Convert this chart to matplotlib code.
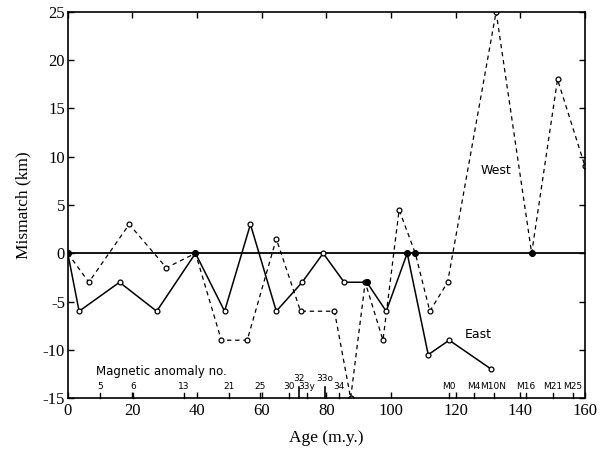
import matplotlib
matplotlib.use("Agg")
import matplotlib.pyplot as plt

plt.rcParams["axes.unicode_minus"] = False

# West (dashed) mismatch
west_age = [0, 6.5, 19, 30.5, 39.5, 47.5, 55.5, 64.5, 72, 82.5, 87.5, 92, 97.5, 102.5, 107.5, 112, 117.5, 132.5, 143.5, 151.5, 160]
west_mis = [0, -3, 3, -1.5, 0, -9, -9, 1.5, -6, -6, -15, -3, -9, 4.5, 0, -6, -3, 25, 0, 18, 9]

# East (solid) mismatch
east_age = [0, 3.5, 16, 27.5, 39.5, 48.5, 56.5, 64.5, 72.5, 79, 85.5, 92.5, 98.5, 105, 111.5, 118, 131]
east_mis = [0, -6, -3, -6, 0, -6, 3, -6, -3, 0, -3, -3, -6, 0, -10.5, -9, -12]

# filled (solid) dots
filled_age = [0, 39.5, 92.5, 105, 107.5, 143.5]
filled_mis = [0, 0, -3, 0, 0, 0]

# magnetic anomaly scale
anom_age = [10, 20.3, 36, 50, 59.5, 68.5, 71.6, 74, 79.5, 84, 118, 125.6, 131.7, 141.6, 150, 156.3]
anom_lab = ["5", "6", "13", "21", "25", "30", "32", "33y", "33o", "34",
            "M0", "M4", "M10N", "M16", "M21", "M25"]
anom_long = ["32", "33o"]

fig = plt.figure(figsize=(6, 4.54), dpi=100)
ax = fig.add_axes([0.113, 0.123, 0.862, 0.851])

ax.axhline(0, color="black", lw=1.3, zorder=1)

ax.plot(west_age, west_mis, color="black", lw=0.9, ls=(0, (3.5, 3)),
        marker="o", ms=3.5, mfc="white", mec="black", mew=0.9, zorder=2)
ax.plot(east_age, east_mis, color="black", lw=1.1,
        marker="o", ms=3.5, mfc="white", mec="black", mew=0.9, zorder=3)
ax.plot(filled_age, filled_mis, "o", color="black", ms=4, zorder=4)

# anomaly ticks and labels
for a, lab in zip(anom_age, anom_lab):
    if lab in anom_long:
        ax.plot([a, a], [-15, -13.8], color="black", lw=1.2, clip_on=False)
        ax.text(a, -13.4, lab, fontsize=6.5, ha="center", va="bottom",
                family="DejaVu Sans")
    else:
        ax.plot([a, a], [-15, -14.5], color="black", lw=1, clip_on=False)
        ax.text(a, -14.3, lab, fontsize=6.5, ha="center", va="bottom",
                family="DejaVu Sans")

ax.text(29, -12.2, "Magnetic anomaly no.", fontsize=8.5, ha="center",
        va="center", family="DejaVu Sans")
ax.text(132.5, 8.6, "West", fontsize=9, ha="center", va="center",
        family="DejaVu Sans")
ax.text(127, -8.4, "East", fontsize=9, ha="center", va="center",
        family="DejaVu Sans")

ax.set_xlim(0, 160)
ax.set_ylim(-15, 25)
ax.set_xticks(range(0, 161, 20))
ax.set_yticks(range(-15, 26, 5))
ax.tick_params(direction="in", top=True, right=True, length=4, width=1,
               labelsize=12)
ax.tick_params(axis="y", pad=2)
for lbl in ax.get_xticklabels() + ax.get_yticklabels():
    lbl.set_family("Liberation Serif")
for s in ax.spines.values():
    s.set_linewidth(1.2)

ax.set_xlabel("Age (m.y.)", fontsize=12.5, family="Liberation Serif", labelpad=8)
ax.set_ylabel("Mismatch (km)", fontsize=12.5, family="Liberation Serif", labelpad=8)

fig.savefig("out.png", dpi=100)
